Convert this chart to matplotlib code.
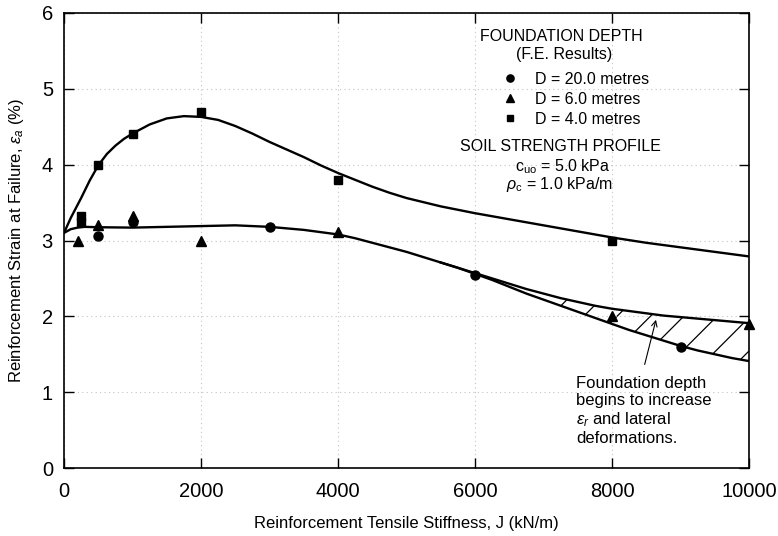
import numpy as np
import matplotlib
matplotlib.use('Agg')
import matplotlib.pyplot as plt

plt.rcParams['font.family'] = ['Liberation Sans', 'DejaVu Sans']
plt.rcParams['mathtext.fontset'] = 'custom'
plt.rcParams['mathtext.rm'] = 'Liberation Sans'
plt.rcParams['mathtext.it'] = 'Liberation Sans:italic'
plt.rcParams['hatch.linewidth'] = 0.9

# F.E. results, reinforcement strain at failure (%)
j_d20 = [500, 1000, 3000, 6000, 9000]
e_d20 = [3.06, 3.25, 3.18, 2.55, 1.60]
j_d6 = [200, 500, 1000, 2000, 4000, 8000, 10000]
e_d6 = [3.00, 3.21, 3.32, 3.00, 3.11, 2.01, 1.90]
j_d4 = [250, 250, 500, 1000, 2000, 4000, 8000]
e_d4 = [3.32, 3.25, 4.00, 4.41, 4.70, 3.80, 3.00]

# fitted trend curves
curve_up_j = [0, 100, 250, 375, 500, 625, 750, 875, 1000, 1250, 1500, 1750, 2000,
              2250, 2500, 2750, 3000, 3250, 3500, 3750, 4000, 4250, 4500, 4750,
              5000, 5500, 6000, 6500, 7000, 7500, 8000, 8500, 9000, 9500, 10000]
curve_up_e = [3.10, 3.30, 3.56, 3.79, 3.99, 4.14, 4.25, 4.34, 4.41, 4.53, 4.61, 4.64, 4.63,
              4.59, 4.51, 4.41, 4.30, 4.20, 4.10, 3.99, 3.89, 3.80, 3.71, 3.63,
              3.56, 3.45, 3.36, 3.28, 3.20, 3.12, 3.04, 2.97, 2.91, 2.85, 2.79]
curve_lo_j = [0, 100, 200, 300, 500, 1000, 1500, 2000, 2500, 3000, 3250, 3500, 3750,
              4000, 4250, 4500, 4750, 5000, 5250, 5500, 5750, 6000, 6250, 6500, 6750,
              7000, 7250, 7500, 7750, 8000, 8250, 8500, 8750, 9000, 9250, 9500, 9750, 10000]
curve_lo_e = [3.10, 3.15, 3.17, 3.18, 3.175, 3.17, 3.18, 3.19, 3.20, 3.18, 3.16, 3.14, 3.11,
              3.08, 3.03, 2.97, 2.91, 2.85, 2.78, 2.71, 2.64, 2.56, 2.48, 2.39, 2.30,
              2.22, 2.14, 2.06, 1.98, 1.90, 1.82, 1.75, 1.68, 1.61, 1.55, 1.50, 1.45, 1.41]
curve_mid_j = [5500, 5750, 6000, 6250, 6500, 6750, 7000, 7250, 7500, 7750, 8000,
               8250, 8500, 8750, 9000, 9250, 9500, 9750, 10000]
curve_mid_e = [2.71, 2.64, 2.57, 2.50, 2.43, 2.36, 2.30, 2.24, 2.19, 2.14, 2.10,
               2.07, 2.04, 2.01, 1.99, 1.97, 1.95, 1.93, 1.91]
hatch_from = 7250

fig = plt.figure(figsize=(7.78, 5.36), dpi=100)
ax = fig.add_axes([64/778, 1 - 468/536, 685/778, 455/536])

ax.plot(curve_up_j, curve_up_e, color='black', lw=1.7)
ax.plot(curve_lo_j, curve_lo_e, color='black', lw=1.7)
ax.plot(curve_mid_j, curve_mid_e, color='black', lw=1.7)

mid_j = np.array(curve_mid_j)
mid_e = np.array(curve_mid_e)
lo_j = np.array(curve_lo_j)
lo_e = np.array(curve_lo_e)
sel = mid_j >= hatch_from
lo_sel = np.isin(lo_j, mid_j[sel])
ax.fill_between(mid_j[sel], lo_e[lo_sel], mid_e[sel], facecolor='none',
                edgecolor='black', hatch='/', linewidth=0)

ax.plot(j_d20, e_d20, 'o', color='black', ms=6.5, clip_on=False, label='D = 20.0 metres')
ax.plot(j_d6, e_d6, '^', color='black', ms=6.5, clip_on=False, label='D = 6.0 metres')
ax.plot(j_d4, e_d4, 's', color='black', ms=6, clip_on=False, label='D = 4.0 metres')

ax.set_xlim(0, 10000)
ax.set_ylim(0, 6)
ax.set_xticks([0, 2000, 4000, 6000, 8000, 10000])
ax.set_yticks([0, 1, 2, 3, 4, 5, 6])
ax.tick_params(direction='in', length=7, width=1, labelsize=14.5,
               top=True, right=True, pad=8)
ax.tick_params(axis='x', pad=10)
ax.grid(True, color='#c4c4c4', linestyle=(0, (1, 3)), linewidth=0.8)
for sp in ax.spines.values():
    sp.set_linewidth(1.2)

ax.set_xlabel('Reinforcement Tensile Stiffness, J (kN/m)', fontsize=12, labelpad=11)
ax.set_ylabel(r'Reinforcement Strain at Failure, $\varepsilon_a$ (%)', fontsize=12, labelpad=11)

ax.text(7255, 5.69, 'FOUNDATION DEPTH', fontsize=11.5, ha='center', va='center')
ax.text(7300, 5.45, '(F.E. Results)', fontsize=11.5, ha='center', va='center')
ax.legend(loc='upper left', bbox_to_anchor=(0.640, 0.871), frameon=False,
          fontsize=11.5, handlelength=1.0, handletextpad=1.06, labelspacing=0.32,
          borderpad=0, borderaxespad=0, markerscale=0.8)
ax.text(7245, 4.24, 'SOIL STRENGTH PROFILE', fontsize=11.5, ha='center', va='center')
ax.text(7285, 3.97, r'c$_{\mathrm{uo}}$ = 5.0 kPa', fontsize=11.5, ha='center', va='center')
ax.text(7230, 3.74, r'$\rho_{\mathrm{c}}$ = 1.0 kPa/m', fontsize=11.5, ha='center', va='center')

ax.annotate('', xy=(8652, 1.99), xytext=(8467, 1.33),
            arrowprops=dict(arrowstyle='->', color='black', lw=0.8))
ax.text(7480, 1.21, 'Foundation depth\nbegins to increase\n'
        r'$\varepsilon_r$ and lateral' '\ndeformations.',
        fontsize=12, ha='left', va='top', linespacing=1.15)

fig.savefig('out.png', dpi=100)
